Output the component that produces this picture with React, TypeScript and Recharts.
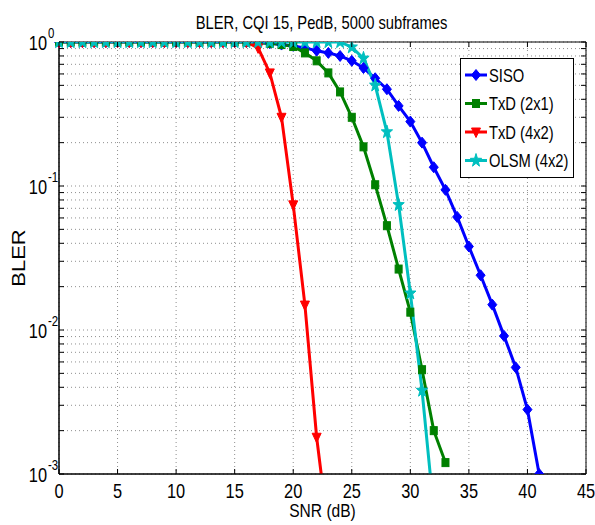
import React from "react";
import {
  LineChart,
  Line,
  XAxis,
  YAxis,
  CartesianGrid,
  Legend,
  ReferenceArea,
} from "recharts";

// SNR points (dB)
const snr = [
  0, 1, 2, 3, 4, 5, 6, 7, 8, 9, 10, 11, 12, 13, 14, 15, 16, 17, 18, 19, 20,
  21, 22, 23, 24, 25, 26, 27, 28, 29, 30, 31, 32, 33, 34, 35, 36, 37, 38, 39,
  40, 41,
];

// BLER per series
const siso = [
  1, 1, 1, 1, 1, 1, 1, 1, 1, 1, 1, 1, 1, 1, 1, 1, 1, 0.99, 0.98, 0.96, 0.94,
  0.91, 0.87, 0.84, 0.8, 0.74, 0.66, 0.56, 0.47, 0.36, 0.28, 0.2, 0.135, 0.094,
  0.061, 0.038, 0.024, 0.015, 0.0091, 0.0055, 0.0028, 0.001,
];
const txd21 = [
  1, 1, 1, 1, 1, 1, 1, 1, 1, 1, 1, 1, 1, 1, 1, 1, 1, 0.99, 0.98, 0.96, 0.93,
  0.84, 0.74, 0.61, 0.45, 0.3, 0.187, 0.102, 0.053, 0.0265, 0.0133, 0.0053,
  0.002, 0.0012,
];
const txd42 = [
  1, 1, 1, 1, 1, 1, 1, 1, 1, 1, 1, 1, 1, 1, 1, 1, 1, 0.91, 0.61, 0.3, 0.074,
  0.0149, 0.0018, 0.0004,
];
const olsm = [
  1, 1, 1, 1, 1, 1, 1, 1, 1, 1, 1, 1, 1, 1, 1, 1, 1, 1, 1, 1, 1, 1, 1, 1, 1,
  0.92, 0.77, 0.5, 0.237, 0.074, 0.018, 0.0038, 0.00056,
];

const xTicks = [0, 5, 10, 15, 20, 25, 30, 35, 40, 45];
const yTicks = [
  0.001, 0.002, 0.003, 0.004, 0.005, 0.006, 0.007, 0.008, 0.009, 0.01, 0.02,
  0.03, 0.04, 0.05, 0.06, 0.07, 0.08, 0.09, 0.1, 0.2, 0.3, 0.4, 0.5, 0.6, 0.7,
  0.8, 0.9, 1,
];
const decades = [0.001, 0.01, 0.1, 1];
const decadeExp = ["-3", "-2", "-1", "0"];

const series = [
  { key: "siso", name: "SISO", color: "#0000ff", shape: "diamond" },
  { key: "txd21", name: "TxD (2x1)", color: "#008000", shape: "square" },
  { key: "txd42", name: "TxD (4x2)", color: "#ff0000", shape: "triangle" },
  { key: "olsm", name: "OLSM (4x2)", color: "#00bfbf", shape: "star" },
];

const data = snr.map((s, i) => ({
  snr: s,
  siso: siso[i] ?? null,
  txd21: txd21[i] ?? null,
  txd42: txd42[i] ?? null,
  olsm: olsm[i] ?? null,
}));

const W = 587;
const H = 517;
const PLOT_TOP = 34;
const PLOT_RIGHT = 578;
const FONT = "'Liberation Sans', Arial, Helvetica, sans-serif";
const SQ = 0.82; // the figure is squeezed horizontally

// text squeezed horizontally, anchored at (x, y)
function SqText({ x, y, anchor = "start", size, children }: any) {
  return (
    <text
      transform={`translate(${x},${y}) scale(${SQ},1)`}
      textAnchor={anchor}
      fontFamily={FONT}
      fontSize={size}
      fill="#000"
    >
      {children}
    </text>
  );
}

function markerNode(shape: string, cx: number, cy: number, color: string) {
  if (shape === "diamond") {
    const pts = `${cx},${cy - 5.5} ${cx + 4.5},${cy} ${cx},${cy + 5.5} ${cx - 4.5},${cy}`;
    return <polygon points={pts} fill={color} stroke={color} strokeWidth={1} />;
  }
  if (shape === "square") {
    return (
      <rect x={cx - 3.5} y={cy - 4} width={7} height={8} fill={color} stroke={color} strokeWidth={1} />
    );
  }
  if (shape === "triangle") {
    const pts = `${cx - 4.5},${cy - 4} ${cx + 4.5},${cy - 4} ${cx},${cy + 5.5}`;
    return <polygon points={pts} fill={color} stroke={color} strokeWidth={1} />;
  }
  const pts: string[] = [];
  for (let k = 0; k < 10; k++) {
    const a = ((-90 + k * 36) * Math.PI) / 180;
    const rad = k % 2 === 0 ? 7 : 2.8;
    pts.push(`${cx + Math.cos(a) * rad * 0.85},${cy + Math.sin(a) * rad}`);
  }
  return <polygon points={pts.join(" ")} fill={color} stroke={color} strokeWidth={1} />;
}

function SeriesDot(props: any) {
  const { cx, cy, shape, color, value } = props;
  if (cx == null || cy == null || value == null) return null;
  return <g>{markerNode(shape, cx, cy, color)}</g>;
}

function XTick(props: any) {
  const { x, y, payload } = props;
  return (
    <g>
      <line x1={x} x2={x} y1={y} y2={y - 5} stroke="#000" />
      <line x1={x} x2={x} y1={PLOT_TOP} y2={PLOT_TOP + 5} stroke="#000" />
      <SqText x={x} y={y + 24} anchor="middle" size={20}>
        {payload.value}
      </SqText>
    </g>
  );
}

function YTick(props: any) {
  const { x, y, payload } = props;
  const d = decades.indexOf(payload.value);
  return (
    <g>
      <line x1={x} x2={x + 5} y1={y} y2={y} stroke="#000" />
      <line x1={PLOT_RIGHT - 5} x2={PLOT_RIGHT} y1={y} y2={y} stroke="#000" />
      {d >= 0 && (
        <g>
          <SqText x={x - 12} y={y + 8} anchor="end" size={20}>
            10
          </SqText>
          <SqText x={x - 11} y={y - 4} size={14}>
            {decadeExp[d]}
          </SqText>
        </g>
      )}
    </g>
  );
}

function BlerLabel() {
  return (
    <text
      transform={`translate(11,250) rotate(-90) scale(1,${SQ})`}
      textAnchor="middle"
      dominantBaseline="central"
      fontFamily={FONT}
      fontSize={22}
      fill="#000"
    >
      BLER
    </text>
  );
}

function SnrLabel(props: any) {
  const vb = props.viewBox || { x: 51, y: 466, width: 527 };
  return (
    <SqText x={vb.x + vb.width / 2} y={vb.y + 43} anchor="middle" size={19}>
      SNR (dB)
    </SqText>
  );
}

function LegendBox() {
  return (
    <svg width={114} height={120} style={{ display: "block" }}>
      <rect x={0.5} y={0.5} width={113} height={119} fill="#fff" stroke="#000" strokeWidth={1} />
      {series.map((s, i) => {
        const cy = 17 + i * 28.5;
        return (
          <g key={s.key}>
            <line x1={5} x2={27} y1={cy} y2={cy} stroke={s.color} strokeWidth={3} />
            {markerNode(s.shape, 16, cy, s.color)}
            <SqText x={29} y={cy + 6.5} size={18}>
              {s.name}
            </SqText>
          </g>
        );
      })}
    </svg>
  );
}

export default function App() {
  return (
    <div style={{ padding: "8px 0 0 8px", width: W, height: H }}>
      {/* body margin moved into padding so the full 595px width is usable */}
      <style>{"body{margin:0}"}</style>
      <div style={{ position: "relative", width: W, height: H }}>
        <svg
          width={W}
          height={30}
          style={{ position: "absolute", left: 0, top: 0, zIndex: 2, pointerEvents: "none" }}
        >
          <SqText x={313.5} y={21} anchor="middle" size={18}>
            BLER, CQI 15, PedB, 5000 subframes
          </SqText>
        </svg>
        <LineChart
          width={W}
          height={H}
          data={data}
          margin={{ top: 34, right: 9, bottom: 11, left: 0 }}
        >
          <CartesianGrid stroke="#8f8f8f" strokeDasharray="1 3" />
          <XAxis
            dataKey="snr"
            type="number"
            domain={[0, 45]}
            ticks={xTicks}
            interval={0}
            tickSize={0}
            tickMargin={0}
            height={40}
            tick={<XTick />}
            axisLine={{ stroke: "#000" }}
            label={{ content: (p: any) => <SnrLabel {...p} /> }}
          />
          <YAxis
            type="number"
            scale="log"
            domain={[0.001, 1]}
            allowDataOverflow
            ticks={yTicks}
            interval={0}
            tickSize={0}
            tickMargin={0}
            width={51}
            tick={<YTick />}
            axisLine={{ stroke: "#000" }}
            label={{ content: () => <BlerLabel /> }}
          />
          <ReferenceArea
            x1={0}
            x2={45}
            y1={0.001}
            y2={1}
            fill="none"
            fillOpacity={0}
            stroke="#000"
            strokeWidth={1}
            ifOverflow="visible"
          />
          {series.map((s) => (
            <Line
              key={s.key}
              type="linear"
              dataKey={s.key}
              name={s.name}
              stroke={s.color}
              strokeWidth={3}
              dot={<SeriesDot shape={s.shape} color={s.color} r={7} strokeWidth={1} />}
              activeDot={false}
              isAnimationActive={false}
            />
          ))}
          <Legend
            layout="vertical"
            align="center"
            verticalAlign="middle"
            content={() => <LegendBox />}
            wrapperStyle={{ position: "absolute", left: 452, top: 50, width: 114, height: 120 }}
          />
        </LineChart>
      </div>
    </div>
  );
}
